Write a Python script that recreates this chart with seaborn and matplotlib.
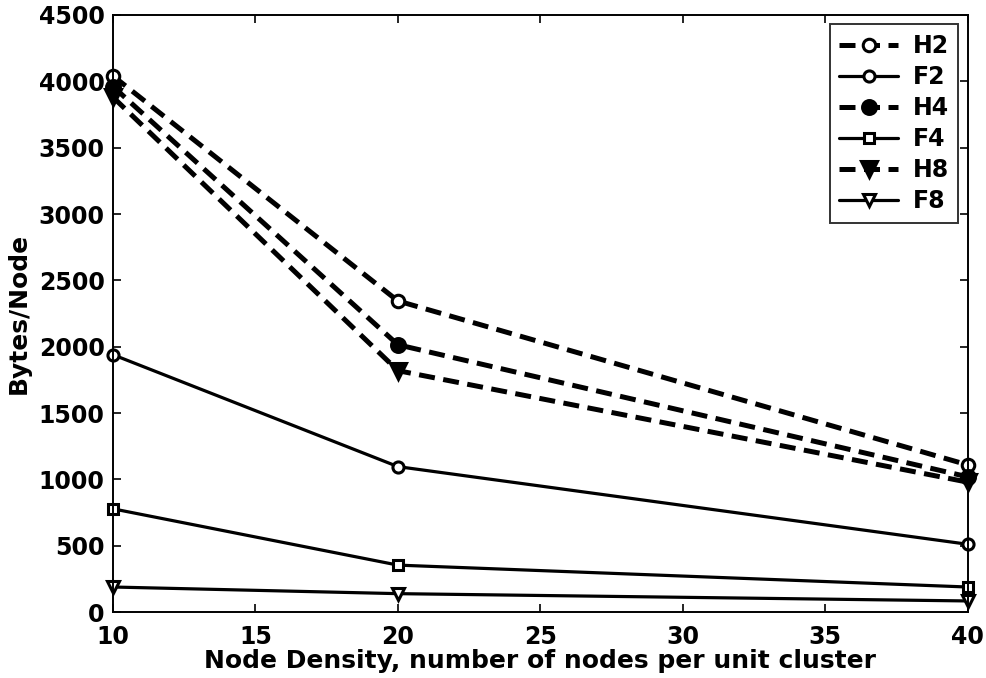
import matplotlib
matplotlib.use("Agg")
import matplotlib.pyplot as plt
import seaborn as sns
import pandas as pd

x_vals = [10, 20, 40]
series_names = ["H2", "F2", "H4", "F4", "H8", "F8"]
H2 = [4040, 2345, 1110]
F2 = [1940, 1097, 512]
H4 = [3960, 2015, 1020]
F4 = [779, 355, 190]
H8 = [3880, 1820, 980]
F8 = [190, 140, 85]
values = [H2, F2, H4, F4, H8, F8]

x_ticks = [10, 15, 20, 25, 30, 35, 40]
y_ticks = [0, 500, 1000, 1500, 2000, 2500, 3000, 3500, 4000, 4500]

rows = []
for name, vals in zip(series_names, values):
    for xv, yv in zip(x_vals, vals):
        rows.append({"x": xv, "y": yv, "series": name})
df = pd.DataFrame(rows)

sns.set_style("ticks")
plt.rcParams['font.family'] = ['DejaVu Sans']
plt.rcParams['font.weight'] = 'bold'
plt.rcParams['text.color'] = 'black'
plt.rcParams['axes.labelcolor'] = 'black'
plt.rcParams['xtick.color'] = 'black'
plt.rcParams['ytick.color'] = 'black'
plt.rcParams['axes.edgecolor'] = 'black'

fig = plt.figure(figsize=(9.87, 6.78), dpi=100)
ax = fig.add_axes([0.1145, 0.097, 0.866, 0.881])

dash = (0, (3.2, 1.7))
styles = {
    "H2": dict(marker="o", mfc="white", ms=9, ls=dash, lw=3.6),
    "F2": dict(marker="o", mfc="white", ms=8, ls="-", lw=2.3),
    "H4": dict(marker="o", mfc="black", ms=10, ls=dash, lw=3.6),
    "F4": dict(marker="s", mfc="white", ms=7, ls="-", lw=2.3),
    "H8": dict(marker="v", mfc="black", ms=11, ls=dash, lw=3.6),
    "F8": dict(marker="v", mfc="white", ms=8, ls="-", lw=2.3),
}

for name in series_names:
    st = styles[name]
    sub = df[df["series"] == name]
    sns.lineplot(data=sub, x="x", y="y", ax=ax, color="black", label=name,
                 marker=st["marker"], markersize=st["ms"], markerfacecolor=st["mfc"],
                 markeredgecolor="black", markeredgewidth=2.2,
                 linewidth=st["lw"], linestyle=st["ls"], clip_on=False)

ax.set_xlim(10, 40)
ax.set_ylim(0, 4500)
ax.set_xticks(x_ticks)
ax.set_yticks(y_ticks)
ax.tick_params(direction="in", length=6, width=1.2, labelsize=17, top=True, right=True,
               colors="black")
ax.tick_params(axis="x", pad=9)
ax.tick_params(axis="y", pad=6)
for lab in ax.get_xticklabels() + ax.get_yticklabels():
    lab.set_fontweight("bold")
for sp in ax.spines.values():
    sp.set_visible(True)
    sp.set_linewidth(1.4)
    sp.set_color("black")
ax.set_xlabel("Node Density, number of nodes per unit cluster", fontsize=18, fontweight="bold",
              labelpad=0, color="black")
ax.set_ylabel("Bytes/Node", fontsize=18, fontweight="bold", labelpad=6, color="black")

leg = ax.legend(loc="upper right", fontsize=17, frameon=True, fancybox=False,
                edgecolor="black", handlelength=2.5, borderaxespad=0.4,
                labelspacing=0.3, handletextpad=0.6, borderpad=0.4)
leg.get_frame().set_linewidth(1.4)
for t in leg.get_texts():
    t.set_fontweight("bold")
    t.set_color("black")

fig.savefig("out.png", dpi=100)
